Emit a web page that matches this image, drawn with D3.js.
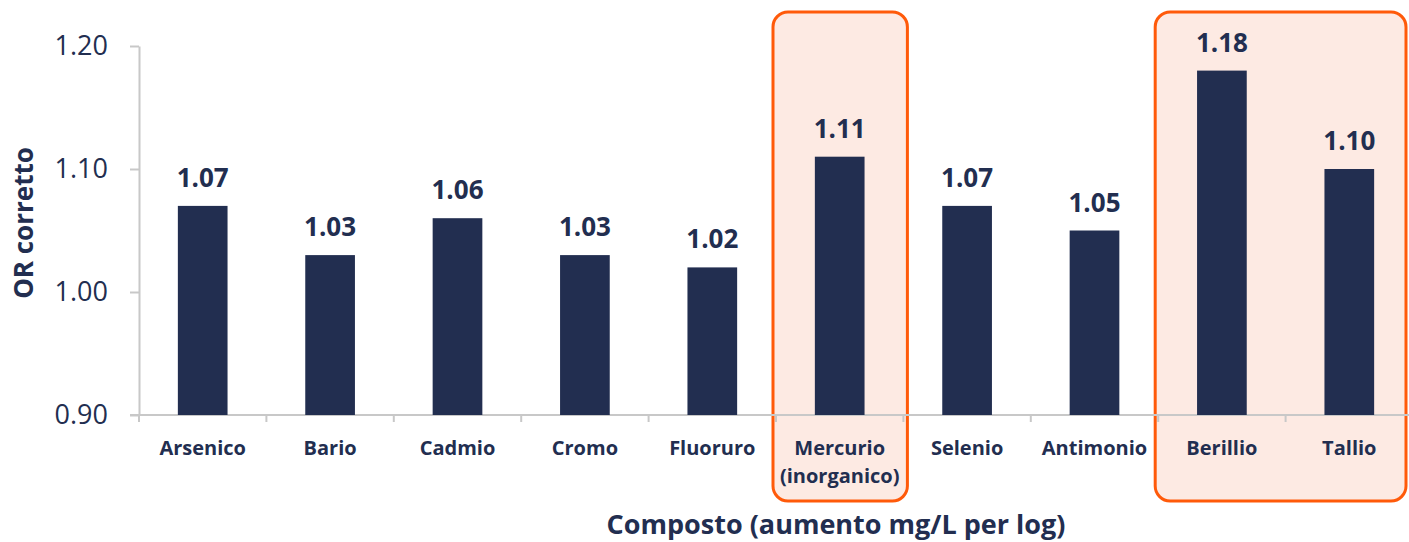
<!DOCTYPE html>
<head>
<meta charset="utf-8">
<script src="https://d3js.org/d3.v7.min.js"></script>
<style>
body { margin: 0; background: #fff; font-family: "Open Sans", sans-serif; }
.axis path, .axis line { stroke: #c8c8c8; stroke-width: 2px; }
.axis text { fill: #222e50; }
</style>
</head>
<body>
<script>

const categories = ["Arsenico", "Bario", "Cadmio", "Cromo", "Fluoruro",
  "Mercurio\n(inorganico)", "Selenio", "Antimonio", "Berillio", "Tallio"];
const values = [1.07, 1.03, 1.06, 1.03, 1.02, 1.11, 1.07, 1.05, 1.18, 1.10];
const yTicks = [0.90, 1.00, 1.10, 1.20];
// groups of categories to highlight with a box
const highlights = [["Mercurio\n(inorganico)"], ["Berillio", "Tallio"]];

const width = 1409, height = 542;
const navy = "#222e50";

let svg = d3.select('body').append('svg')
  .attr('width', width)
  .attr('height', height);

let x = d3.scaleBand()
  .domain(categories)
  .range([139, 1413])
  .paddingInner(0.61)
  .paddingOuter(0.305);

let y = d3.scaleLinear()
  .domain([0.9, 1.2])
  .range([415, 46]);

let step = x.step();
let gap = (step - x.bandwidth()) / 2;

// highlight boxes
highlights.forEach(g => {
  let x0 = x(g[0]) - gap - 3;
  let x1 = Math.min(x(g[g.length - 1]) + x.bandwidth() + gap + 4, 1406);
  svg.append('rect')
    .attr('x', x0)
    .attr('y', 12)
    .attr('width', x1 - x0)
    .attr('height', 489)
    .attr('rx', 15)
    .attr('fill', '#fdeae3')
    .attr('stroke', '#ff5a0a')
    .attr('stroke-width', 3);
});

// y axis
let yAxis = svg.append('g')
  .attr('class', 'axis')
  .attr('transform', 'translate(139,0)')
  .call(d3.axisLeft(y).tickValues(yTicks).tickFormat(d3.format('.2f')).tickSize(9).tickSizeOuter(0));
yAxis.selectAll('text')
  .attr('x', -31)
  .style('font-size', '27px')
  .style('font-family', '"Open Sans", sans-serif');

// x axis
let xAxis = svg.append('g')
  .attr('class', 'axis')
  .attr('transform', 'translate(0,415)');
xAxis.append('line')
  .attr('x1', 130).attr('x2', width);
xAxis.selectAll('.tk')
  .data(categories)
  .enter().append('line')
  .attr('class', 'tk')
  .attr('x1', d => x(d) - gap)
  .attr('x2', d => x(d) - gap)
  .attr('y1', 0).attr('y2', 7);

let catLabels = svg.append('g')
  .selectAll('text')
  .data(categories)
  .enter().append('text')
  .attr('x', d => x(d) + x.bandwidth() / 2)
  .attr('y', 455)
  .attr('text-anchor', 'middle')
  .style('font-size', '20px')
  .style('font-weight', 'bold')
  .attr('fill', navy);
catLabels.each(function(d) {
  let lines = d.split('\n');
  d3.select(this).selectAll('tspan')
    .data(lines)
    .enter().append('tspan')
    .attr('x', x(d) + x.bandwidth() / 2)
    .attr('dy', (l, i) => i === 0 ? 0 : 28)
    .text(l => l);
});

// bars
svg.append('g')
  .selectAll('rect')
  .data(values)
  .enter().append('rect')
  .attr('x', (d, i) => x(categories[i]))
  .attr('y', d => y(d))
  .attr('width', x.bandwidth())
  .attr('height', d => y(0.9) - y(d))
  .attr('fill', navy);

// value labels
svg.append('g')
  .selectAll('text')
  .data(values)
  .enter().append('text')
  .attr('x', (d, i) => x(categories[i]) + x.bandwidth() / 2)
  .attr('y', d => y(d) - 19)
  .attr('text-anchor', 'middle')
  .style('font-size', '26px')
  .style('font-weight', 'bold')
  .attr('fill', navy)
  .text(d => d.toFixed(2));

// axis titles
svg.append('text')
  .attr('transform', 'translate(33,223) rotate(-90)')
  .attr('text-anchor', 'middle')
  .style('font-size', '26px')
  .style('font-weight', 'bold')
  .attr('fill', navy)
  .text('OR corretto');

svg.append('text')
  .attr('x', 836)
  .attr('y', 534)
  .attr('text-anchor', 'middle')
  .style('font-size', '27px')
  .style('font-weight', 'bold')
  .attr('fill', navy)
  .text('Composto (aumento mg/L per log)');

</script>
</body>
